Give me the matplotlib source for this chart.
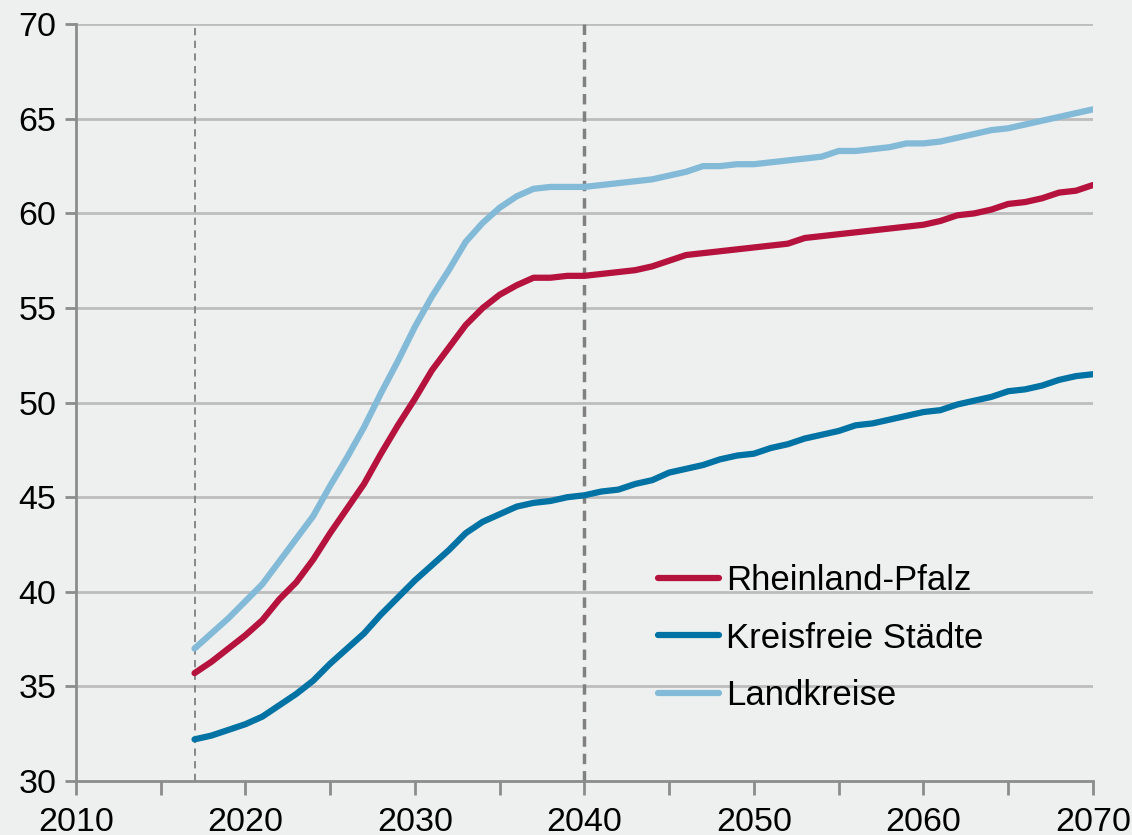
import matplotlib
matplotlib.use("Agg")
import matplotlib.pyplot as plt
import numpy as np

plt.rcParams['font.family'] = ['Liberation Sans', 'DejaVu Sans']

years = np.arange(2017, 2071)

rlp = [35.7, 36.3, 37.0, 37.7, 38.5, 39.6, 40.5, 41.7, 43.1, 44.4,
       45.7, 47.3, 48.8, 50.2, 51.7, 52.9, 54.1, 55.0, 55.7, 56.2,
       56.6, 56.6, 56.7, 56.7, 56.8, 56.9, 57.0, 57.2, 57.5, 57.8,
       57.9, 58.0, 58.1, 58.2, 58.3, 58.4, 58.7, 58.8, 58.9, 59.0,
       59.1, 59.2, 59.3, 59.4, 59.6, 59.9, 60.0, 60.2, 60.5, 60.6,
       60.8, 61.1, 61.2, 61.5]

kfs = [32.2, 32.4, 32.7, 33.0, 33.4, 34.0, 34.6, 35.3, 36.2, 37.0,
       37.8, 38.8, 39.7, 40.6, 41.4, 42.2, 43.1, 43.7, 44.1, 44.5,
       44.7, 44.8, 45.0, 45.1, 45.3, 45.4, 45.7, 45.9, 46.3, 46.5,
       46.7, 47.0, 47.2, 47.3, 47.6, 47.8, 48.1, 48.3, 48.5, 48.8,
       48.9, 49.1, 49.3, 49.5, 49.6, 49.9, 50.1, 50.3, 50.6, 50.7,
       50.9, 51.2, 51.4, 51.5]

lk = [37.0, 37.8, 38.6, 39.5, 40.4, 41.6, 42.8, 44.0, 45.6, 47.1,
      48.7, 50.5, 52.2, 54.0, 55.6, 57.0, 58.5, 59.5, 60.3, 60.9,
      61.3, 61.4, 61.4, 61.4, 61.5, 61.6, 61.7, 61.8, 62.0, 62.2,
      62.5, 62.5, 62.6, 62.6, 62.7, 62.8, 62.9, 63.0, 63.3, 63.3,
      63.4, 63.5, 63.7, 63.7, 63.8, 64.0, 64.2, 64.4, 64.5, 64.7,
      64.9, 65.1, 65.3, 65.5]

labels = ["Rheinland-Pfalz", "Kreisfreie Städte", "Landkreise"]
colors = ["#b5123e", "#0072a3", "#82bad7"]

bg = "#eef0ef"
fig = plt.figure(figsize=(11.32, 8.35), dpi=100, facecolor=bg)
ax = fig.add_axes([0.067, 0.0647, 0.8985, 0.9063])
ax.set_facecolor(bg)

for y in range(35, 71, 5):
    ax.axhline(y, color="#bdbdbd", lw=2, zorder=1)

ax.axvline(2017, color="#808080", lw=1.3, ls=(0, (4, 3)), zorder=2)
ax.axvline(2040, color="#808080", lw=2.5, ls=(0, (3, 2)), zorder=2)

for vals, lab, c in zip([rlp, kfs, lk], labels, colors):
    ax.plot(years, vals, color=c, lw=4.5, label=lab, zorder=3,
            solid_capstyle="round")

ax.set_xlim(2010, 2070)
ax.set_ylim(30, 70)
ax.set_xticks(np.arange(2010, 2071, 10))
ax.set_xticks(np.arange(2015, 2070, 10), minor=True)
ax.set_yticks(np.arange(30, 71, 5))

for s in ["top", "right"]:
    ax.spines[s].set_visible(False)
for s in ["left", "bottom"]:
    ax.spines[s].set_color("#8c8c8c")
    ax.spines[s].set_linewidth(2)

ax.tick_params(axis="both", which="both", color="#8c8c8c", width=2,
               labelsize=24.5, labelcolor="black")
ax.tick_params(axis="x", which="major", length=10, pad=9)
ax.tick_params(axis="x", which="minor", length=10)
ax.tick_params(axis="y", length=8, pad=6)

leg = ax.legend(loc="lower left", bbox_to_anchor=(0.542, 0.05), frameon=False,
                fontsize=25, handlelength=1.75, handletextpad=0.2,
                labelspacing=0.7)

fig.savefig("out.png", dpi=100, facecolor=bg)
